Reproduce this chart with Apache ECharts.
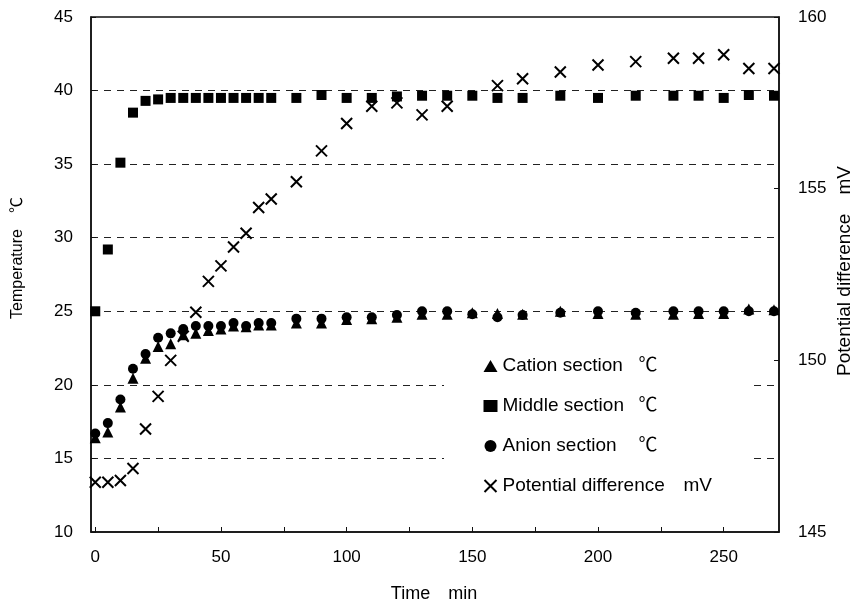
<!DOCTYPE html>
<html>
<head>
<meta charset="utf-8">
<script src="https://cdn.jsdelivr.net/npm/echarts@6/dist/echarts.min.js"></script>
<style>html,body{margin:0;padding:0;background:#fff}#c{width:857px;height:604px}</style>
</head>
<body>
<div id="c"></div>
<script>
const times = [0,5,10,15,20,25,30,35,40,45,50,55,60,65,70,80,90,100,110,120,130,140,150,160,170,185,200,215,230,240,250,260,270];
const cation = [16.4,16.8,18.5,20.45,21.8,22.6,22.8,23.4,23.5,23.7,23.8,24.0,23.95,24.07,24.07,24.2,24.2,24.45,24.5,24.6,24.8,24.8,24.9,24.85,24.8,25.0,24.85,24.8,24.8,24.85,24.85,25.15,25.1];
const middle = [25.0,29.2,35.1,38.5,39.3,39.4,39.5,39.5,39.5,39.5,39.5,39.5,39.5,39.5,39.5,39.5,39.7,39.5,39.5,39.6,39.65,39.65,39.65,39.5,39.5,39.65,39.5,39.65,39.65,39.65,39.5,39.7,39.65];
const anion = [16.7,17.4,19.0,21.1,22.1,23.2,23.5,23.8,24.0,24.0,24.0,24.2,24.0,24.2,24.2,24.5,24.5,24.6,24.6,24.75,25.0,25.0,24.8,24.6,24.75,24.9,25.0,24.9,25.0,25.0,25.0,25.0,25.0];
const potential = [146.45,146.45,146.5,146.85,148.0,148.95,150.0,150.7,151.4,152.3,152.75,153.3,153.7,154.45,154.7,155.2,156.1,156.9,157.4,157.5,157.15,157.4,null,158.0,158.2,158.4,158.6,158.7,158.8,158.8,158.9,158.5,158.5];
const xLabels = [0,50,100,150,200,250];
const xTicks = [0,25,50,75,100,125,150,175,200,225,250];
const names = ['Cation section　℃','Middle section　℃','Anion section　℃','Potential difference　mV'];

function pairs(vals){ const out=[]; vals.forEach((v,i)=>{ if(v!==null) out.push([times[i],v]); }); return out; }

const FONT = '"Liberation Sans","Noto Sans CJK JP",Arial,sans-serif';
const chart = echarts.init(document.getElementById('c'), null, {renderer:'canvas'});
const crossPath = 'path://M0,0L10,10M10,0L0,10';
const option = {
  animation:false,
  backgroundColor:'#fff',
  grid:{left:91,right:78,top:17,bottom:72,show:true,borderColor:'#111',borderWidth:1.5,backgroundColor:'transparent'},
  xAxis:{
    type:'value', min:-1.7, max:272,
    axisLine:{show:true,onZero:false,lineStyle:{color:'#111',width:1.5}},
    axisTick:{show:true,inside:true,length:5,customValues:xTicks,lineStyle:{color:'#111'}},
    axisLabel:{customValues:xLabels,margin:17,fontSize:17,color:'#000',fontFamily:FONT},
    splitLine:{show:false}
  },
  yAxis:[{
    type:'value', min:10, max:45, interval:5, position:'left',
    axisLine:{show:true,onZero:false,lineStyle:{color:'#111',width:1.5}},
    axisTick:{show:true,inside:true,length:5,lineStyle:{color:'#111'}},
    axisLabel:{margin:18,fontSize:17,color:'#000',fontFamily:FONT},
    splitLine:{show:true,showMinLine:false,showMaxLine:false,lineStyle:{color:'#222',type:[7,6],width:1}}
  },{
    type:'value', min:145, max:160, interval:5, position:'right',
    axisLine:{show:true,onZero:false,lineStyle:{color:'#111',width:1.5}},
    axisTick:{show:true,inside:true,length:5,lineStyle:{color:'#111'}},
    axisLabel:{margin:19,fontSize:17,color:'#000',fontFamily:FONT},
    splitLine:{show:false}
  }],
  legend:{
    orient:'vertical', left:444, top:336,
    padding:[20,36,20,38],
    backgroundColor:'#fff',
    itemWidth:14, itemHeight:12, itemGap:20,
    data:names,
    formatter:function(n){
      if(n.indexOf('Potential')===0) return '{p|Potential difference}{u|mV}';
      const parts=n.split('　'); return '{a|'+parts[0]+'}{u|'+parts[1]+'}';
    },
    textStyle:{fontFamily:FONT,fontSize:19,color:'#000',lineHeight:20,
      rich:{a:{width:136,fontSize:19,fontFamily:FONT,lineHeight:20},p:{width:181,fontSize:19,fontFamily:FONT,lineHeight:20},u:{fontSize:19,fontFamily:FONT,lineHeight:20}}}
  },
  series:[
    {name:names[0],type:'scatter',yAxisIndex:0,symbol:'triangle',symbolSize:[11,11],itemStyle:{color:'#000',opacity:1},data:pairs(cation)},
    {name:names[1],type:'scatter',yAxisIndex:0,symbol:'rect',symbolSize:10,itemStyle:{color:'#000',opacity:1},data:pairs(middle)},
    {name:names[2],type:'scatter',yAxisIndex:0,symbol:'circle',symbolSize:10,itemStyle:{color:'#000',opacity:1},data:pairs(anion)},
    {name:names[3],type:'scatter',yAxisIndex:1,symbol:crossPath,symbolSize:11,itemStyle:{color:'none',borderColor:'#000',borderWidth:2,opacity:1},data:pairs(potential)}
  ],
  graphic:[
    {type:'text',x:18,y:258,rotation:Math.PI/2,style:{text:'Temperature　℃',font:'16px '+FONT,fill:'#000',align:'center',verticalAlign:'middle'}},
    {type:'text',x:845,y:271,rotation:Math.PI/2,style:{text:'Potential difference　mV',font:'19px '+FONT,fill:'#000',align:'center',verticalAlign:'middle'}},
    {type:'text',x:434,y:594,style:{text:'Time　min',font:'18px '+FONT,fill:'#000',align:'center',verticalAlign:'middle'}}
  ]
};
chart.setOption(option);
</script>
</body>
</html>
